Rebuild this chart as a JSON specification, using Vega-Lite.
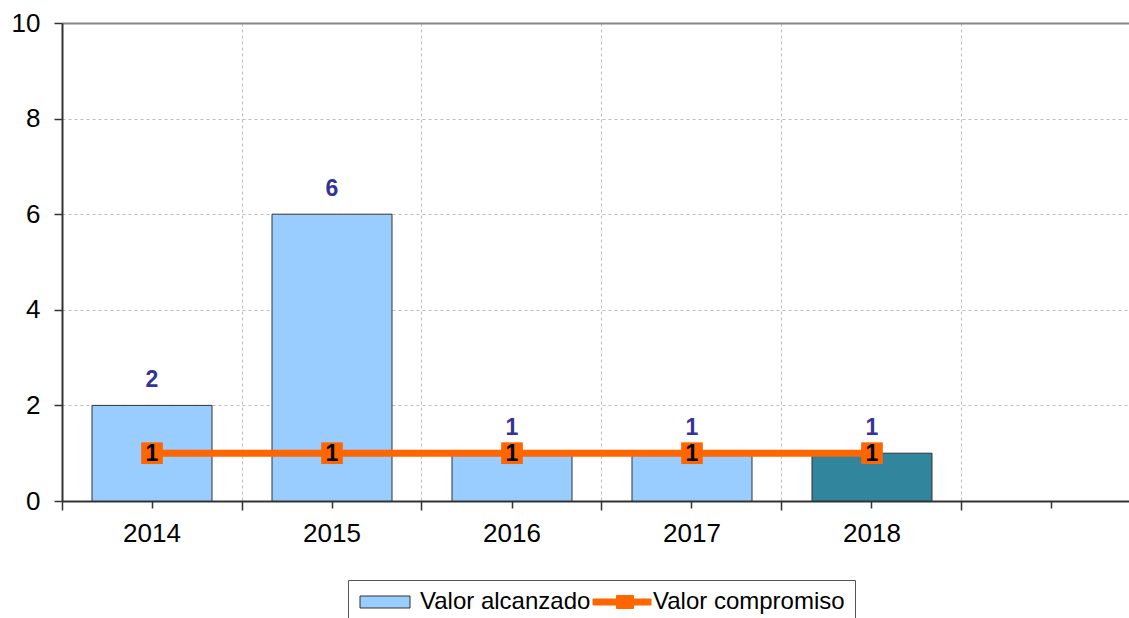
{
  "$schema": "https://vega.github.io/schema/vega-lite/v6.json",
  "autosize": {"type": "none"},
  "width": 1067,
  "height": 478,
  "padding": {"left": 62, "top": 23, "right": 0, "bottom": 117},
  "config": {
    "font": "Liberation Sans",
    "view": {"stroke": null},
    "axis": {"labelFont": "Liberation Sans", "labelColor": "#000000", "labelFontSize": 26, "title": null},
    "legend": {
      "orient": "none", "legendX": 286, "legendY": 557, "direction": "horizontal",
      "strokeColor": "#555555", "fillColor": "#FFFFFF", "padding": 10,
      "labelFontSize": 24, "labelFont": "Liberation Sans", "labelColor": "#000000", "labelLimit": 400,
      "symbolSize": 400, "labelOffset": 38, "columnPadding": 0
    }
  },
  "data": {
    "values": [
      {"year": "2014", "alcanzado": 2, "compromiso": 1},
      {"year": "2015", "alcanzado": 6, "compromiso": 1},
      {"year": "2016", "alcanzado": 1, "compromiso": 1},
      {"year": "2017", "alcanzado": 1, "compromiso": 1},
      {"year": "2018", "alcanzado": 1, "compromiso": 1}
    ]
  },
  "resolve": {"axis": {"x": "independent"}},
  "layer": [
    {
      "mark": {"type": "bar"},
      "encoding": {
        "x": {
          "field": "year", "type": "nominal",
          "scale": {"domain": ["2014", "2015", "2016", "2017", "2018", " "], "range": [0, 1080], "paddingInner": 0.3333, "paddingOuter": 0.1667},
          "axis": {"orient": "bottom", "bandPosition": -0.25, "labelOffset": 0, "labelAngle": 0, "labelPadding": 10, "grid": true, "gridColor": "#BBBBBB", "gridDash": [3, 3], "gridWidth": 1, "labels": true, "ticks": true, "tickSize": 9, "tickColor": "#333333", "tickWidth": 1.5, "domain": true, "domainColor": "#333333", "domainWidth": 2}
        },
        "y": {
          "field": "alcanzado", "type": "quantitative",
          "scale": {"domain": [0, 10], "nice": false},
          "axis": {"values": [0, 2, 4, 6, 8, 10], "grid": true,
            "gridColor": {"condition": {"test": "datum.value === 10", "value": "#888888"}, "value": "#BBBBBB"},
            "gridDash": {"condition": {"test": "datum.value === 10", "value": []}, "value": [3, 3]},
            "gridWidth": {"condition": {"test": "datum.value === 10", "value": 2}, "value": 1},
            "tickSize": 8, "tickColor": "#333333", "tickWidth": 1.5, "domainColor": "#333333", "domainWidth": 2, "labelPadding": 14}
        },
        "color": {
          "condition": {"test": "datum.year === '2018'", "value": "#31859C"},
          "datum": "Valor alcanzado",
          "scale": {"domain": ["Valor alcanzado", "Valor compromiso"], "range": ["#99CCFF", "#FF6600"]},
          "legend": {
            "title": null,
            "symbolType": {"expr": "datum.label === 'Valor compromiso' ? 'M-1,-0.3H4.8V0.3H-1Z M1.35,-0.65H3.05V0.65H1.35Z' : 'M-1,-0.6H4V0.6H-1Z'"},
            "symbolStrokeColor": {"expr": "datum.label === 'Valor compromiso' ? '#FF6600' : '#333333'"},
            "symbolStrokeWidth": 1
          }
        }
      }
    },
    {
      "mark": {"type": "bar", "fillOpacity": 0, "stroke": "#333333", "strokeWidth": 1},
      "encoding": {
        "x": {"field": "year", "type": "nominal", "axis": null},
        "y": {"field": "alcanzado", "type": "quantitative"}
      }
    },
    {
      "mark": {"type": "text", "dy": -18, "fontSize": 23, "fontWeight": "bold", "color": "#333399", "baseline": "alphabetic"},
      "encoding": {
        "x": {"field": "year", "type": "nominal", "axis": null},
        "y": {"field": "alcanzado", "type": "quantitative"},
        "text": {"field": "alcanzado", "type": "quantitative"}
      }
    },
    {
      "mark": {"type": "line", "strokeWidth": 7, "color": "#FF6600"},
      "encoding": {
        "x": {"field": "year", "type": "nominal",
          "axis": {"orient": "bottom", "bandPosition": 0.5, "grid": false, "labels": false, "ticks": true, "tickSize": 7, "tickColor": "#333333", "tickWidth": 1.5, "domain": false, "offset": 0}},
        "y": {"field": "compromiso", "type": "quantitative"}
      }
    },
    {
      "mark": {"type": "point", "shape": "square", "filled": true, "size": 470, "opacity": 1, "color": "#FF6600"},
      "encoding": {
        "x": {"field": "year", "type": "nominal", "axis": null},
        "y": {"field": "compromiso", "type": "quantitative"}
      }
    },
    {
      "mark": {"type": "text", "fontSize": 23, "fontWeight": "bold", "color": "#000000", "baseline": "middle", "dy": 1},
      "encoding": {
        "x": {"field": "year", "type": "nominal", "axis": null},
        "y": {"field": "compromiso", "type": "quantitative"},
        "text": {"field": "compromiso", "type": "quantitative"}
      }
    }
  ]
}
